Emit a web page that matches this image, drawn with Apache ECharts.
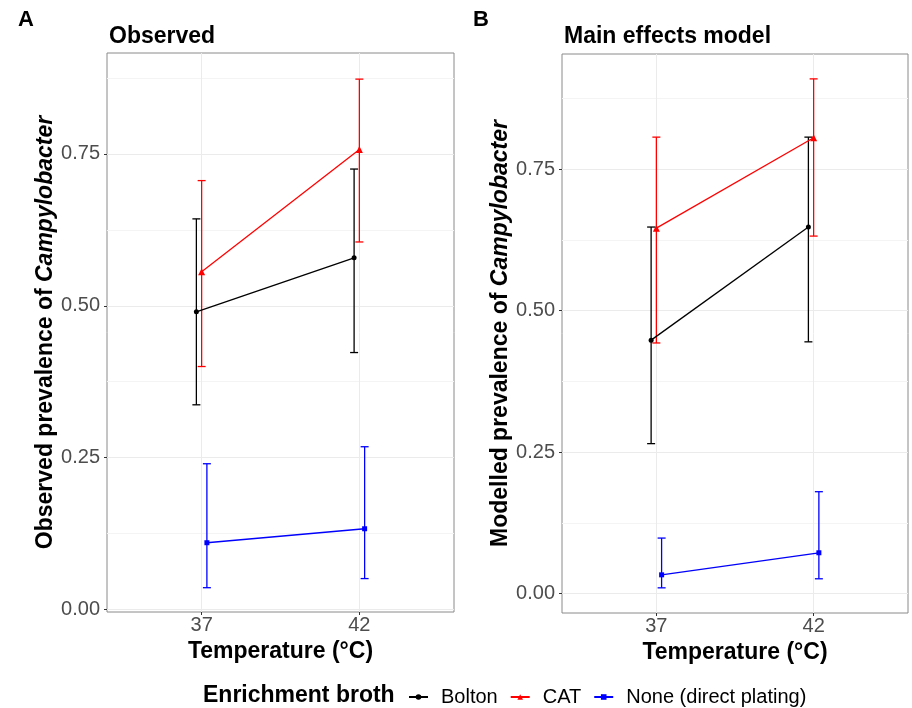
<!DOCTYPE html>
<html>
<head>
<meta charset="utf-8">
<script src="https://cdn.jsdelivr.net/npm/echarts@6/dist/echarts.min.js"></script>
<style>
  html, body { margin: 0; padding: 0; background: #fff; }
  #chart { width: 912px; height: 708px; }
</style>
</head>
<body>
<div id="chart"></div>
<script>
// categories
const tempLabels = ['37', '42'];
const groups = ['Bolton', 'CAT', 'None (direct plating)'];
const majorTicks = [0, 0.25, 0.5, 0.75];
const minorTicks = [0.125, 0.375, 0.625, 0.875];

// panel A: observed prevalence (point, lower, upper) at 37 and 42
const obsBolton = [0.490, 0.579];
const obsBoltonLo = [0.337, 0.423];
const obsBoltonHi = [0.643, 0.725];
const obsCat = [0.556, 0.757];
const obsCatLo = [0.400, 0.605];
const obsCatHi = [0.706, 0.873];
const obsNone = [0.110, 0.133];
const obsNoneLo = [0.036, 0.051];
const obsNoneHi = [0.240, 0.268];

// panel B: modelled prevalence
const modBolton = [0.448, 0.648];
const modBoltonLo = [0.265, 0.445];
const modBoltonHi = [0.648, 0.807];
const modCat = [0.646, 0.806];
const modCatLo = [0.443, 0.632];
const modCatHi = [0.807, 0.910];
const modNone = [0.033, 0.072];
const modNoneLo = [0.010, 0.026];
const modNoneHi = [0.098, 0.180];

const colors = ['#000000', '#ff0000', '#0000ff'];
const symbols = ['circle', 'triangle', 'rect'];
const symbolSizes = [5, 7, 5];
const dodge = [-1 / 30, 0, 1 / 30];

const chart = echarts.init(document.getElementById('chart'));

function errorBar(color) {
  return function (params, api) {
    const x = api.value(0);
    const top = api.coord([x, api.value(2)]);
    const bot = api.coord([x, api.value(1)]);
    const hw = 4;
    const style = { stroke: color, lineWidth: 1.3 };
    return {
      type: 'group',
      children: [
        { type: 'line', shape: { x1: top[0], y1: top[1], x2: bot[0], y2: bot[1] }, style: style },
        { type: 'line', shape: { x1: top[0] - hw, y1: top[1], x2: top[0] + hw, y2: top[1] }, style: style },
        { type: 'line', shape: { x1: bot[0] - hw, y1: bot[1], x2: bot[0] + hw, y2: bot[1] }, style: style }
      ]
    };
  };
}

function makeSeries(gridIdx, sets) {
  const out = [];
  sets.forEach(function (s, g) {
    const xs = [1 + dodge[g], 2 + dodge[g]];
    out.push({
      name: groups[g],
      type: 'line',
      xAxisIndex: gridIdx,
      yAxisIndex: gridIdx * 2,
      data: xs.map(function (x, i) { return [x, s[0][i]]; }),
      symbol: symbols[g],
      symbolSize: symbolSizes[g],
      showSymbol: true,
      lineStyle: { color: colors[g], width: 1.3 },
      itemStyle: { color: colors[g] },
      z: 3,
      animation: false
    });
    out.push({
      name: groups[g],
      type: 'custom',
      xAxisIndex: gridIdx,
      yAxisIndex: gridIdx * 2,
      data: xs.map(function (x, i) { return [x, s[1][i], s[2][i]]; }),
      renderItem: errorBar(colors[g]),
      z: 2,
      animation: false
    });
  });
  return out;
}

const FONT = 'Liberation Sans';
const tickLabelStyle = { color: '#4d4d4d', fontSize: 20, fontFamily: FONT };
const axisTitleStyle = { fontSize: 23, fontWeight: 'bold', color: '#000', fontFamily: FONT };

function xAxisFor(gridIdx) {
  return {
    type: 'value', gridIndex: gridIdx, min: 0.4, max: 2.6,
    axisLine: { show: false, onZero: false },
    axisTick: { show: true, length: 3, customValues: [1, 2], lineStyle: { color: '#333' } },
    axisLabel: Object.assign({ customValues: [1, 2], margin: 3,
      formatter: function (v) { return tempLabels[Math.round(v) - 1]; } }, tickLabelStyle),
    splitLine: { show: true, lineStyle: { color: '#ebebeb', width: 1 } },
    name: 'Temperature (°C)', nameLocation: 'middle', nameGap: 27,
    nameTextStyle: axisTitleStyle
  };
}

function yAxesFor(gridIdx, min, max, label) {
  return [{
    type: 'value', gridIndex: gridIdx, min: min, max: max,
    axisLine: { show: false, onZero: false },
    axisTick: { show: true, length: 3, customValues: majorTicks, lineStyle: { color: '#333' } },
    axisLabel: Object.assign({ customValues: majorTicks, margin: 7,
      formatter: function (v) { return v.toFixed(2); } }, tickLabelStyle),
    splitLine: { show: true, lineStyle: { color: '#ebebeb', width: 1 } },
    name: '{b|' + label + ' prevalence of }{i|Campylobacter}',
    nameLocation: 'middle', nameGap: 50,
    nameTextStyle: {
      rich: {
        b: axisTitleStyle,
        i: Object.assign({ fontStyle: 'italic' }, axisTitleStyle)
      }
    }
  }, {
    type: 'value', gridIndex: gridIdx, min: min, max: max, position: 'left',
    axisLine: { show: false, onZero: false },
    axisTick: { show: false, customValues: minorTicks },
    axisLabel: { show: false, customValues: minorTicks },
    splitLine: { show: true, lineStyle: { color: '#f4f4f4', width: 1 } }
  }];
}

const titleFont = { fontFamily: FONT, fontWeight: 'bold', color: '#000' };

chart.setOption({
  backgroundColor: '#fff',
  animation: false,
  title: [
    { text: 'A', left: 13, top: 4, textStyle: Object.assign({ fontSize: 22 }, titleFont) },
    { text: 'Observed', left: 104, top: 20, textStyle: Object.assign({ fontSize: 23 }, titleFont) },
    { text: 'B', left: 468, top: 4, textStyle: Object.assign({ fontSize: 22 }, titleFont) },
    { text: 'Main effects model', left: 559, top: 20, textStyle: Object.assign({ fontSize: 23 }, titleFont) },
    { text: 'Enrichment broth', left: 198, top: 679, textStyle: Object.assign({ fontSize: 23 }, titleFont) }
  ],
  legend: {
    data: groups,
    left: 403, top: 682,
    itemWidth: 19, itemHeight: 7, itemGap: 12,
    textStyle: { fontSize: 20, color: '#000', fontFamily: FONT, padding: [0, 0, 0, 8] }
  },
  grid: [
    { left: 107, top: 53, width: 347, height: 559, show: true, borderColor: '#8a8a8a', borderWidth: 1, backgroundColor: 'transparent' },
    { left: 562, top: 54, width: 346, height: 559, show: true, borderColor: '#8a8a8a', borderWidth: 1, backgroundColor: 'transparent' }
  ],
  xAxis: [xAxisFor(0), xAxisFor(1)],
  yAxis: yAxesFor(0, -0.004, 0.916, 'Observed').concat(yAxesFor(1, -0.0345, 0.954, 'Modelled')),
  series: makeSeries(0, [
    [obsBolton, obsBoltonLo, obsBoltonHi],
    [obsCat, obsCatLo, obsCatHi],
    [obsNone, obsNoneLo, obsNoneHi]
  ]).concat(makeSeries(1, [
    [modBolton, modBoltonLo, modBoltonHi],
    [modCat, modCatLo, modCatHi],
    [modNone, modNoneLo, modNoneHi]
  ]))
});
</script>
</body>
</html>
